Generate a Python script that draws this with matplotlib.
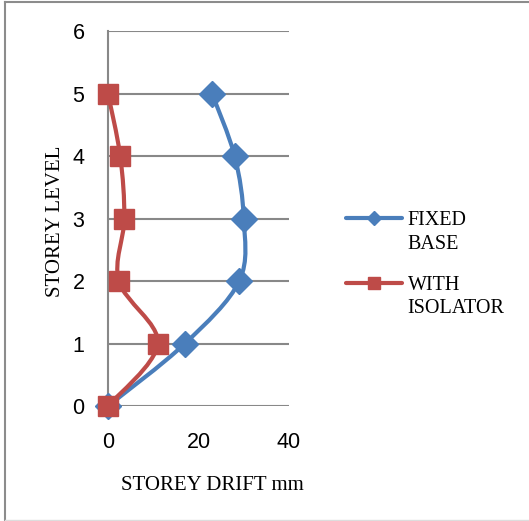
import matplotlib
matplotlib.use('Agg')
import matplotlib.pyplot as plt
from matplotlib.path import Path
from matplotlib.patches import PathPatch
from matplotlib.lines import Line2D
import numpy as np

plt.rcParams['font.family'] = 'Liberation Sans'

levels = [0, 1, 2, 3, 4, 5]
fixed_base = [0, 17, 29, 30, 28, 23]
with_isolator = [0, 11, 2.4, 3.6, 2.7, 0]

blue = '#4a7ebb'
red = '#be4b48'
grid_col = '#888888'


def smooth_path(xs, ys):
    # Excel-style smoothed line: Catmull-Rom turned into cubic Bezier segments
    pts = np.column_stack([xs, ys]).astype(float)
    p = np.vstack([pts[0], pts, pts[-1]])
    verts = [pts[0]]
    codes = [Path.MOVETO]
    for i in range(1, len(p) - 2):
        c1 = p[i] + (p[i + 1] - p[i - 1]) / 6
        c2 = p[i + 1] - (p[i + 2] - p[i]) / 6
        verts += [c1, c2, p[i + 1]]
        codes += [Path.CURVE4] * 3
    return Path(verts, codes)


fig = plt.figure(figsize=(5.29, 5.21), dpi=100)
ax = fig.add_axes([0.2042, 0.2207, 0.3421, 0.7193])

for xs, col in [(fixed_base, blue), (with_isolator, red)]:
    ax.add_patch(PathPatch(smooth_path(xs, levels), facecolor='none', edgecolor=col,
                           lw=3, capstyle='round', joinstyle='round', zorder=3))

ax.plot(fixed_base, levels, linestyle='none', marker='D', ms=13, color=blue,
        zorder=4, clip_on=False)
ax.plot(with_isolator, levels, linestyle='none', marker='s', ms=14, color=red,
        zorder=5, clip_on=False)

ax.set_xlim(0, 40)
ax.set_ylim(0, 6)
ax.set_xticks([0, 20, 40])
ax.set_yticks(range(7))
ax.tick_params(length=0, labelsize=15.5, colors='black')
ax.tick_params(axis='x', pad=19)
ax.tick_params(axis='y', pad=17)
ax.yaxis.grid(True, color=grid_col, lw=1.5)
ax.set_axisbelow(True)
for s in ['top', 'right', 'bottom']:
    ax.spines[s].set_visible(False)
ax.spines['left'].set_color(grid_col)
ax.spines['left'].set_linewidth(1.5)

ax.set_xlabel('STOREY DRIFT mm', family='Liberation Serif', fontsize=15)
ax.xaxis.set_label_coords(0.575, -0.187)
ax.set_ylabel('STOREY LEVEL', family='Liberation Serif', fontsize=15)
ax.yaxis.set_label_coords(-0.24, 0.493)

handles = [Line2D([], [], color=blue, lw=3, marker='D', ms=7, solid_capstyle='round'),
           Line2D([], [], color=red, lw=3, marker='s', ms=9, solid_capstyle='round')]
leg = fig.legend(handles, ['FIXED\nBASE', 'WITH\nISOLATOR'], loc='center left',
                 bbox_to_anchor=(0.62, 0.492), frameon=False,
                 prop={'family': 'Liberation Serif', 'size': 14.5},
                 handlelength=2.8, handletextpad=0.25, labelspacing=1.1)
for t in leg.get_texts():
    t.set_linespacing(1.3)
# put the line of each entry level with the first text line, as Excel does
for column in leg._legend_handle_box.get_children():
    for entry in column.get_children():
        entry.align = 'top'

# outer frame
fig.add_artist(Line2D([5 / 529, 5 / 529], [1 / 521, 519.5 / 521], color='#8c8c8c', lw=1.5))
fig.add_artist(Line2D([5 / 529, 1], [519.5 / 521, 519.5 / 521], color='#8c8c8c', lw=1.5))
fig.add_artist(Line2D([5 / 529, 1], [1 / 521, 1 / 521], color='#dddddd', lw=1))

fig.savefig('out.png', dpi=100)
